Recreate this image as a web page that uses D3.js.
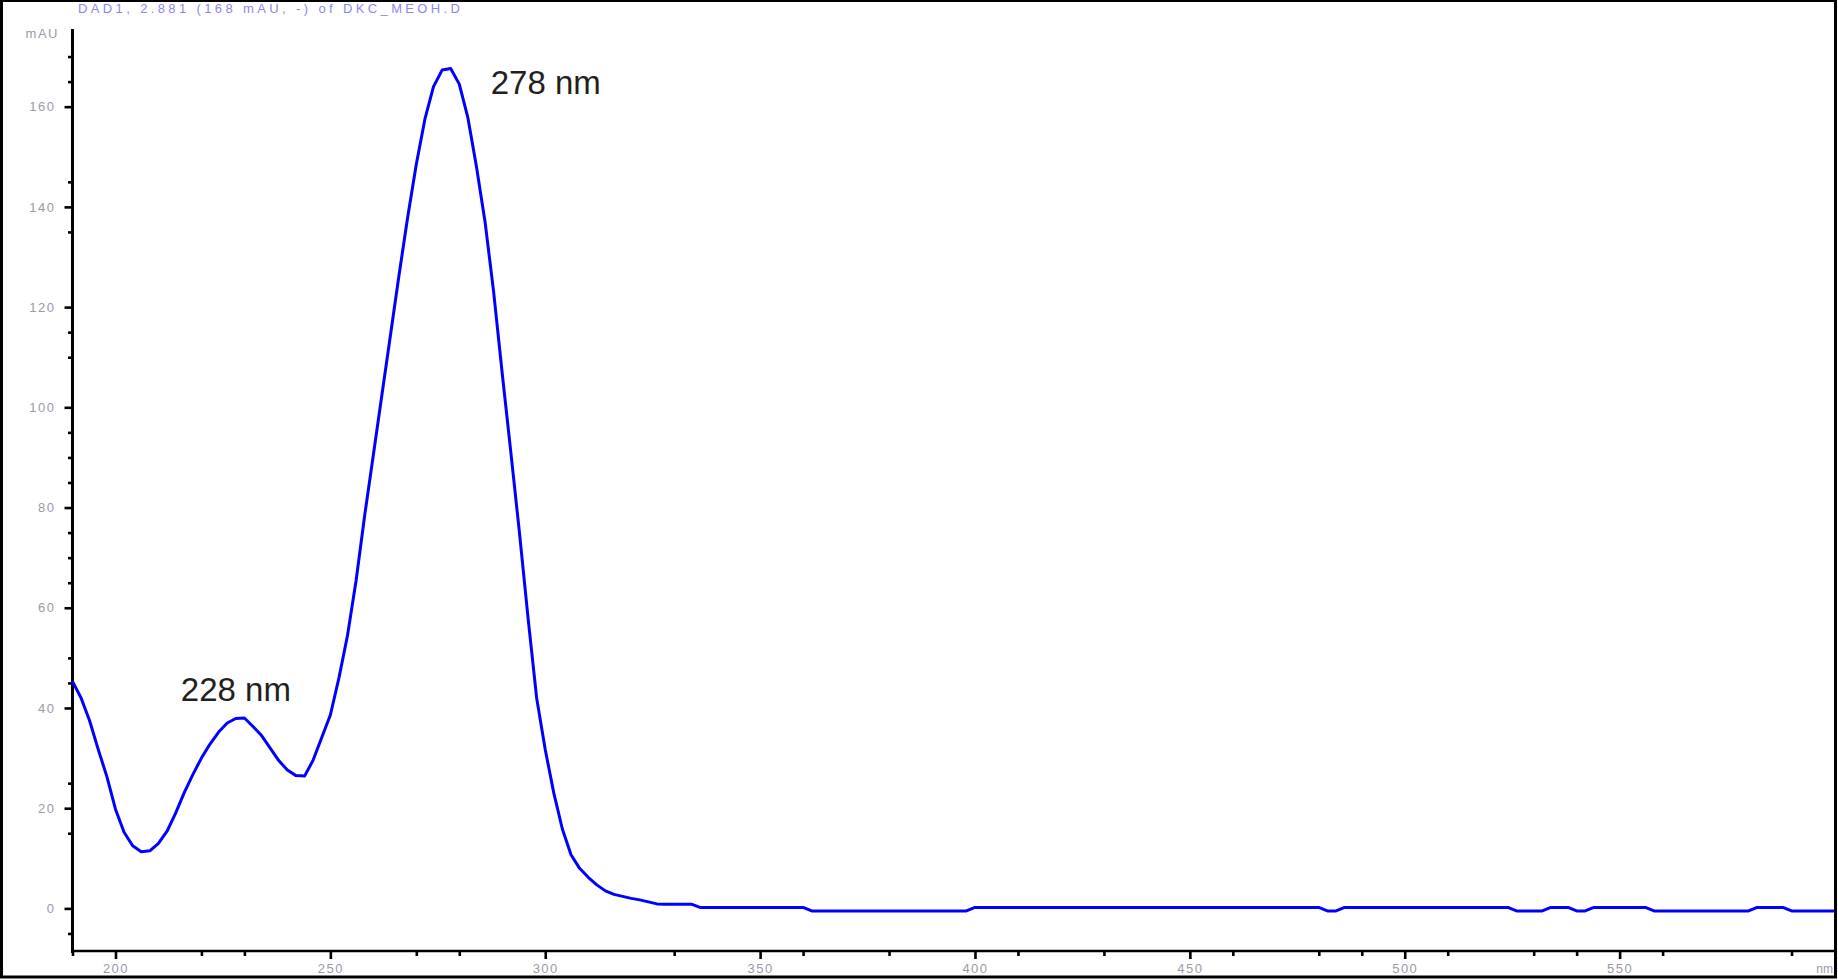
<!DOCTYPE html>
<html>
<head>
<meta charset="utf-8">
<script src="https://cdn.jsdelivr.net/npm/d3@7"></script>
<style>
  html, body { margin: 0; padding: 0; background: #ffffff; }
  svg { display: block; }
</style>
</head>
<body>
<script>
// ---------- data ----------
const wavelength = [
  190,192,194,196,198,200,202,204,206,208,
  210,212,214,216,218,220,222,224,226,228,
  230,232,234,236,238,240,242,244,246,248,
  250,252,254,256,258,260,262,264,266,268,
  270,272,274,276,278,280,282,284,286,288,
  290,292,294,296,298,300,302,304,306,308,
  310,312,314,316,318,320,322,324,326,328,
  330,332,334,336,
  360,362,398,400,480,482,484,486,524,526,532,534,538,540,542,544,556,558,580,582,588,590,600
];
const absorbance = [
  45.3,42.0,37.4,31.7,26.3,19.8,15.2,12.5,11.3,11.5,
  13.0,15.4,19.0,23.1,26.7,30.0,32.8,35.2,37.0,37.9,
  38.0,36.3,34.5,32.0,29.5,27.6,26.5,26.4,29.6,34.1,
  38.6,46.0,54.5,65.5,78.5,90.5,102.5,114.5,126.5,138.0,
  148.5,157.5,164.0,167.3,167.6,164.5,157.8,148.0,137.0,123.0,
  106.7,91.0,75.0,58.0,42.0,31.7,23.0,15.8,10.7,8.0,
  6.2,4.7,3.5,2.8,2.4,2.0,1.7,1.3,0.9,0.85,
  0.85,0.85,0.85,0.2,
  0.2,-0.5,-0.5,0.2,0.2,-0.5,-0.5,0.2,0.2,-0.5,-0.5,0.2,0.2,-0.5,-0.5,0.2,0.2,-0.5,-0.5,0.2,0.2,-0.5,-0.5
];

const xMajorTicks = [200, 250, 300, 350, 400, 450, 500, 550];
const xMinorTicks = [190, 220, 230, 270, 280, 330, 360, 380, 410, 430, 460, 480, 490, 510, 530, 540, 560, 590];
const yMajorTicks = [0, 20, 40, 60, 80, 100, 120, 140, 160];
const yMinorTicks = [-5, 15, 25, 45, 50, 65, 70, 75, 85, 90, 95, 110, 115, 135, 145, 165, 170];

const peakLabels = ["228 nm", "278 nm"];
const peakAnchors = [[228, 38], [278, 167.6]];

const titleText = "DAD1, 2.881 (168 mAU, -) of DKC_MEOH.D";
const yUnit = "mAU";
const xUnit = "nm";

// ---------- layout ----------
const W = 1838, H = 980;
const plot = { left: 72.5, right: 1834.5, top: 29, bottom: 951 };

const svg = d3.select("body").append("svg")
  .attr("width", W).attr("height", H);

svg.append("rect").attr("x", 0).attr("y", 0).attr("width", W).attr("height", H).attr("fill", "#ffffff");

const x = d3.scaleLinear().domain([190, 600]).range([plot.left, plot.right]);
const y = d3.scaleLinear().domain([-8.5, 175.5]).range([plot.bottom, plot.top]);

const labelFont = "'Liberation Sans', Arial, sans-serif";
const labelColor = "#9b9aa6";

// y axis (major)
const yAxisG = svg.append("g").attr("transform", `translate(${plot.left},0)`)
  .call(d3.axisLeft(y).tickValues(yMajorTicks).tickSize(8).tickSizeOuter(0).tickPadding(9).tickFormat(d3.format("d")));
yAxisG.select(".domain").remove();
yAxisG.selectAll(".tick line").attr("stroke", "#000").attr("stroke-width", 2.6);
yAxisG.selectAll(".tick text").attr("fill", labelColor).attr("font-family", labelFont)
  .attr("font-size", 13).attr("letter-spacing", "1.5px");

// y axis (minor)
const yMinorG = svg.append("g").attr("transform", `translate(${plot.left},0)`)
  .call(d3.axisLeft(y).tickValues(yMinorTicks).tickSize(4.5).tickSizeOuter(0).tickFormat(""));
yMinorG.select(".domain").remove();
yMinorG.selectAll(".tick line").attr("stroke", "#000").attr("stroke-width", 2.6);

// x axis (major)
const xAxisG = svg.append("g").attr("transform", `translate(0,${plot.bottom})`)
  .call(d3.axisBottom(x).tickValues(xMajorTicks).tickSize(8).tickSizeOuter(0).tickPadding(5).tickFormat(d3.format("d")));
xAxisG.select(".domain").remove();
xAxisG.selectAll(".tick line").attr("stroke", "#000").attr("stroke-width", 2.6);
xAxisG.selectAll(".tick text").attr("fill", labelColor).attr("font-family", labelFont)
  .attr("font-size", 13).attr("letter-spacing", "1.5px");

// x axis (minor)
const xMinorG = svg.append("g").attr("transform", `translate(0,${plot.bottom})`)
  .call(d3.axisBottom(x).tickValues(xMinorTicks).tickSize(5).tickSizeOuter(0).tickFormat(""));
xMinorG.select(".domain").remove();
xMinorG.selectAll(".tick line").attr("stroke", "#000").attr("stroke-width", 2.6);

// axis lines
svg.append("line").attr("x1", plot.left).attr("x2", plot.left).attr("y1", plot.top).attr("y2", plot.bottom + 2)
  .attr("stroke", "#000").attr("stroke-width", 3);
svg.append("line").attr("x1", plot.left - 1.5).attr("x2", plot.right).attr("y1", plot.bottom).attr("y2", plot.bottom)
  .attr("stroke", "#000").attr("stroke-width", 2.6);

// unit labels
svg.append("text").attr("x", 59).attr("y", 38).attr("text-anchor", "end")
  .attr("fill", labelColor).attr("font-family", labelFont).attr("font-size", 13)
  .attr("letter-spacing", "1.5px").text(yUnit);
svg.append("text").attr("x", 1833).attr("y", 973).attr("text-anchor", "end")
  .attr("fill", labelColor).attr("font-family", labelFont).attr("font-size", 12)
  .text(xUnit);

// title
svg.append("text").attr("x", 78).attr("y", 13)
  .attr("fill", "#8c86f2").attr("font-family", labelFont).attr("font-size", 13)
  .attr("textLength", 382).attr("lengthAdjust", "spacing")
  .text(titleText);

// spectrum line
const pts = wavelength.map((w, i) => [w, absorbance[i]]);
const line = d3.line().x(d => x(d[0])).y(d => y(d[1])).curve(d3.curveLinear);
svg.append("path").datum(pts).attr("d", line)
  .attr("fill", "none").attr("stroke", "#0000ff").attr("stroke-width", 3)
  .attr("stroke-linejoin", "round");

// peak annotations
const annotOffsets = [[-55, -17], [40, 25]];
svg.selectAll("text.peak").data(peakLabels).enter().append("text")
  .attr("class", "peak")
  .attr("x", (d, i) => x(peakAnchors[i][0]) + annotOffsets[i][0])
  .attr("y", (d, i) => y(peakAnchors[i][1]) + annotOffsets[i][1])
  .attr("fill", "#231f20").attr("font-family", labelFont).attr("font-size", 33)
  .text(d => d);

// outer frame
svg.append("rect").attr("x", 1.5).attr("y", 0.5).attr("width", W - 4).attr("height", H - 3.5)
  .attr("fill", "none").attr("stroke", "#000").attr("stroke-width", 3);
</script>
</body>
</html>
